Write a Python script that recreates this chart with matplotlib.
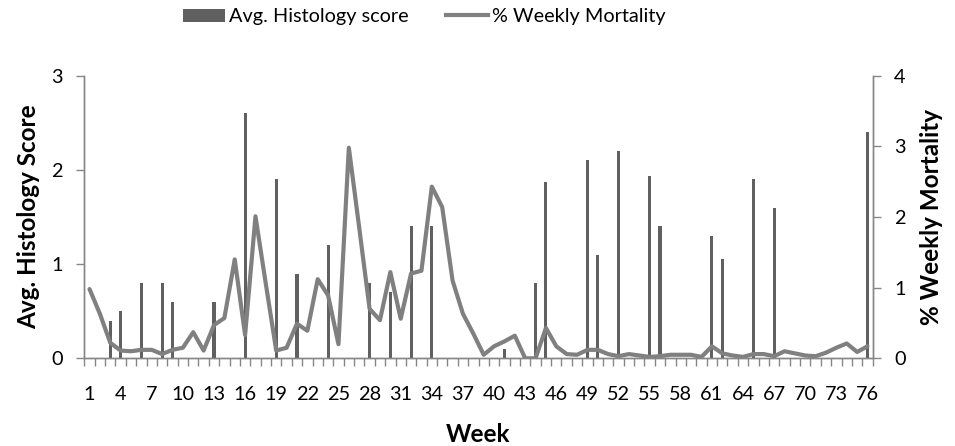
import matplotlib
matplotlib.use('Agg')
import matplotlib.pyplot as plt
from matplotlib.ticker import FixedLocator, MultipleLocator
from matplotlib.patches import Patch
from matplotlib.lines import Line2D

plt.rcParams['font.family'] = ['Lato', 'DejaVu Sans']

# weeks 1..76
weeks = list(range(1, 77))

# % weekly mortality, one value per week (right axis)
mortality = [0.98, 0.63, 0.22, 0.11, 0.10, 0.12, 0.12, 0.06, 0.12, 0.15,
             0.37, 0.11, 0.47, 0.57, 1.40, 0.33, 2.01, 1.05, 0.11, 0.15,
             0.49, 0.39, 1.12, 0.89, 0.20, 2.98, 1.85, 0.70, 0.54, 1.22,
             0.56, 1.20, 1.24, 2.43, 2.14, 1.10, 0.63, 0.35, 0.05, 0.17,
             0.24, 0.32, 0.00, 0.00, 0.43, 0.17, 0.06, 0.05, 0.12, 0.12,
             0.06, 0.03, 0.06, 0.04, 0.02, 0.03, 0.05, 0.05, 0.05, 0.02,
             0.17, 0.07, 0.04, 0.02, 0.06, 0.06, 0.03, 0.10, 0.07, 0.04,
             0.03, 0.08, 0.15, 0.21, 0.09, 0.17]

# avg histology score, only weeks that were sampled (left axis)
hist_weeks = [3, 4, 6, 8, 9, 13, 16, 19, 21, 24, 28, 30, 32, 34, 41, 44, 45,
              49, 50, 52, 55, 56, 61, 62, 65, 67, 76]
hist_scores = [0.4, 0.5, 0.8, 0.8, 0.6, 0.6, 2.6, 1.9, 0.9, 1.2, 0.8, 0.7,
               1.4, 1.4, 0.1, 0.8, 1.87, 2.1, 1.1, 2.2, 1.94, 1.4, 1.3, 1.05,
               1.9, 1.6, 2.4]

tick_weeks = list(range(1, 77, 3))

bar_color = '#606060'
line_color = '#808080'
spine_color = '#868686'
fs = 14.3
fs_title = 17.5

fig = plt.figure(figsize=(9.55, 4.46), dpi=100)
ax = fig.add_axes([0.0883, 0.1966, 0.8255, 0.6337])
ax2 = ax.twinx()

ax.bar(hist_weeks, hist_scores, width=0.3, color=bar_color, zorder=2)
ax2.plot(weeks, mortality, color=line_color, linewidth=3.0,
         solid_joinstyle='round', solid_capstyle='round')

ax.set_xlim(0.5, 76.5)
ax.set_ylim(0, 3)
ax2.set_ylim(0, 4)
ax.yaxis.set_major_locator(MultipleLocator(1))
ax2.yaxis.set_major_locator(MultipleLocator(1))

# category labels every 3 weeks, tick marks on every category boundary
ax.xaxis.set_major_locator(FixedLocator(tick_weeks))
ax.set_xticklabels([str(w) for w in tick_weeks])
ax.xaxis.set_minor_locator(FixedLocator([w + 0.5 for w in range(0, 77)]))
ax.tick_params(axis='x', which='major', length=0, pad=20, labelsize=fs)
ax.tick_params(axis='x', which='minor', length=5.5, width=1,
               color=spine_color, direction='out')
ax.tick_params(axis='y', length=5.5, width=1, color=spine_color,
               pad=10, labelsize=fs)
ax2.tick_params(axis='y', length=5.5, width=1, color=spine_color,
                pad=10, labelsize=fs)

for a in (ax, ax2):
    a.spines['top'].set_visible(False)
    for s in ('left', 'right', 'bottom'):
        a.spines[s].set_color(spine_color)
        a.spines[s].set_linewidth(1)

ax.set_xlabel('Week', fontsize=fs_title, fontweight='bold', labelpad=14)
ax.set_ylabel('Avg. Histology Score', fontsize=fs_title, fontweight='bold',
              labelpad=8)
ax2.set_ylabel('% Weekly Mortality', fontsize=fs_title, fontweight='bold',
               labelpad=10)

handles = [Patch(facecolor=bar_color, edgecolor='none'),
           Line2D([], [], color=line_color, linewidth=3.0)]
fig.legend(handles, ['Avg. Histology score', '% Weekly Mortality'],
           loc='center', bbox_to_anchor=(0.4445, 0.962), ncol=2,
           frameon=False, fontsize=fs, handlelength=2.1,
           handletextpad=0.2, columnspacing=1.9)

plt.savefig('out.png', dpi=100)
